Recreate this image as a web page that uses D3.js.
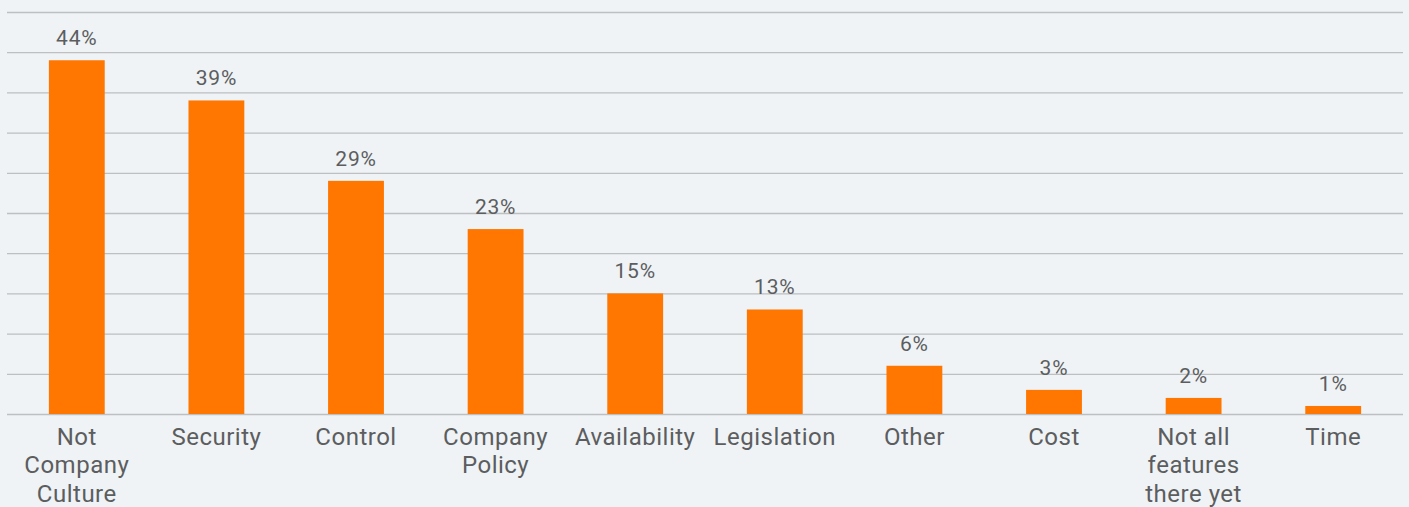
<!DOCTYPE html>
<html>
<head>
<meta charset="utf-8">
<script src="https://cdn.jsdelivr.net/npm/d3@7"></script>
<style>
html,body{margin:0;padding:0;background:#eff3f5;}
svg{display:block;}
text{font-family:Roboto, "Open Sans", sans-serif;}
</style>
</head>
<body>
<svg id="chart" width="1409" height="507"></svg>
<script>
const categories = [
  ["Not", "Company", "Culture"],
  ["Security"],
  ["Control"],
  ["Company", "Policy"],
  ["Availability"],
  ["Legislation"],
  ["Other"],
  ["Cost"],
  ["Not all", "features", "there yet"],
  ["Time"]
];
const values = [44, 39, 29, 23, 15, 13, 6, 3, 2, 1];
const yTicks = [0, 5, 10, 15, 20, 25, 30, 35, 40, 45, 50];

const svg = d3.select("#chart");
const W = 1409, H = 507;
svg.append("rect").attr("width", W).attr("height", H).attr("fill", "#eff3f5");

const keys = categories.map(c => c.join(" "));
const x = d3.scaleBand().domain(keys).range([7, 1403]).paddingInner(0.6).paddingOuter(0.3);
const y = d3.scaleLinear().domain([0, 50]).range([414, 12]);

// gridlines
svg.append("g")
  .attr("transform", "translate(7,0)")
  .call(d3.axisLeft(y).tickValues(yTicks).tickSize(-1396).tickFormat(""))
  .call(g => g.select(".domain").remove())
  .call(g => g.selectAll("line").attr("stroke", "#bdbfc1").attr("stroke-width", 1.3));

// bars
svg.append("g").selectAll("rect").data(values).join("rect")
  .attr("x", (d, i) => x(keys[i]))
  .attr("width", x.bandwidth())
  .attr("y", d => y(d))
  .attr("height", d => y(0) - y(d))
  .attr("fill", "#ff7700");

// value labels
svg.append("g").selectAll("text").data(values).join("text")
  .attr("x", (d, i) => x(keys[i]) + x.bandwidth() / 2)
  .attr("y", d => y(d) - 15)
  .attr("text-anchor", "middle")
  .attr("font-size", 21)
  .attr("letter-spacing", 0.8)
  .attr("fill", "#5c5d5f")
  .text(d => d + "%");

// category labels
const lab = svg.append("g").selectAll("text").data(categories).join("text")
  .attr("x", (d, i) => x(keys[i]) + x.bandwidth() / 2)
  .attr("y", 444.5)
  .attr("text-anchor", "middle")
  .attr("font-size", 24)
  .attr("letter-spacing", 0.5)
  .attr("fill", "#5c5d5f");
lab.selectAll("tspan").data(d => d).join("tspan")
  .attr("x", function() { return this.parentNode.getAttribute("x"); })
  .attr("dy", (d, i) => i === 0 ? 0 : 28.5)
  .text(d => d);
</script>
</body>
</html>
